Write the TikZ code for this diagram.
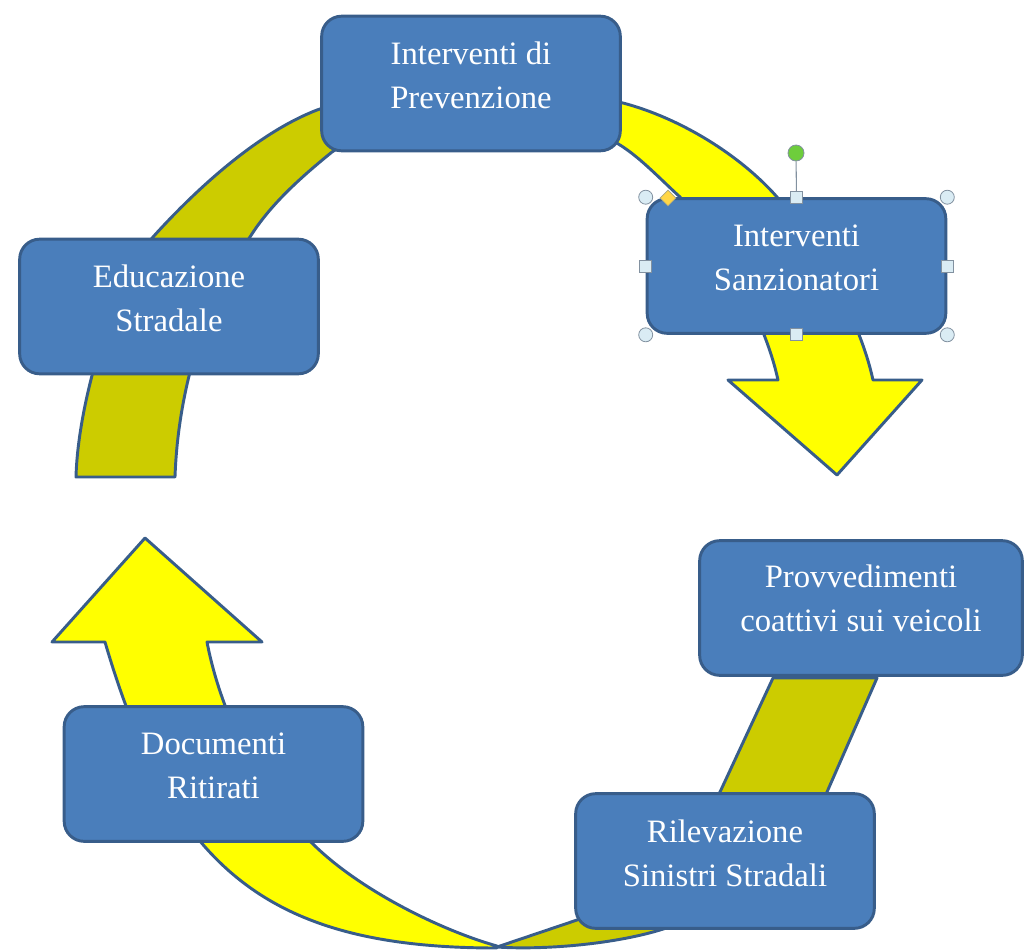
\documentclass[tikz,border=0pt]{standalone}
\usepackage{fontspec}
\setmainfont{Liberation Serif}
\usetikzlibrary{shapes.geometric}
\definecolor{boxc}{RGB}{74,126,187}
\definecolor{bordc}{RGB}{56,93,138}
\definecolor{yellowc}{RGB}{255,255,0}
\definecolor{olivec}{RGB}{204,204,0}
\definecolor{handf}{RGB}{218,236,244}
\definecolor{handd}{RGB}{130,145,160}
\definecolor{greenc}{RGB}{110,205,60}
\definecolor{goldc}{RGB}{255,214,70}
\begin{document}
\begin{tikzpicture}[x=0.75pt,y=-0.75pt,
  box/.style={draw=bordc, line width=2.2pt, fill=boxc, rounded corners=15pt,
    minimum width=224pt, minimum height=101pt, inner sep=0pt},
  widebox/.style={box, minimum width=242pt},
  lbl/.style={text=white, align=center, inner sep=0pt,
    font=\fontsize{24.5}{33}\selectfont},
  band/.style={draw=bordc, line width=2.2pt, line join=round},
  hcirc/.style={circle, draw=handd, fill=handf, line width=0.6pt,
    minimum size=10.5pt, inner sep=0pt},
  hsq/.style={rectangle, draw=handd, fill=handf, line width=0.6pt,
    minimum size=9pt, inner sep=0pt},
  hrot/.style={circle, draw=handd, fill=greenc, line width=0.6pt,
    minimum size=12pt, inner sep=0pt},
  hadj/.style={diamond, draw=handd!70!goldc, fill=goldc, line width=0.5pt,
    minimum size=12pt, inner sep=0pt}]
\useasboundingbox (0,0) rectangle (1026,951);

% top arc: olive tail
\filldraw[band, fill=olivec]
  (76,477) .. controls (78,400) and (115,280) .. (153,237)
  .. controls (200,185) and (260,132) .. (317,110)
  .. controls (370,92) and (420,88) .. (470,87)
  -- (470,132)
  .. controls (410,134) and (352,137) .. (332,152)
  .. controls (300,178) and (270,205) .. (250,237)
  .. controls (205,300) and (178,390) .. (175,477)
  -- cycle;
% top arc: yellow head
\filldraw[band, fill=yellowc]
  (470,87) .. controls (520,86) and (580,93) .. (623,103)
  .. controls (680,118) and (740,155) .. (777,197)
  .. controls (820,250) and (860,320) .. (873,380)
  -- (922,380) -- (837,475) -- (728,380) -- (778,380)
  .. controls (765,320) and (725,250) .. (680,197)
  .. controls (658,177) and (638,155) .. (615,142)
  .. controls (590,130) and (520,131) .. (470,132)
  -- cycle;
% bottom arc: olive tail
\filldraw[band, fill=olivec]
  (877,678) -- (827,792)
  .. controls (800,850) and (740,905) .. (660,930)
  .. controls (610,945) and (540,950) .. (497,947)
  -- (577,920)
  .. controls (640,895) and (695,840) .. (720,792)
  -- (773,678)
  -- cycle;
% bottom arc: yellow head
\filldraw[band, fill=yellowc]
  (497,948) .. controls (270,948) and (172,871) .. (105,642)
  -- (52,642) -- (145,538) -- (262,642) -- (207,642)
  .. controls (222,720) and (265,800) .. (314,845)
  .. controls (360,890) and (440,930) .. (497,946)
  -- cycle;

% boxes
\node[box] (prev) at (471,83.5) {};
\node[box] (edu) at (169,306.5) {};
\node[box] (sanz) at (796.5,266) {};
\node[widebox] (prov) at (861,608) {};
\node[box] (doc) at (213.5,774) {};
\node[box] (ril) at (725,861) {};

\node[lbl] (tprev) at ([yshift=6pt]prev.center) {Interventi di\\Prevenzione};
\node[lbl] (tedu) at ([yshift=6pt]edu.center) {Educazione\\Stradale};
\node[lbl] (tsanz) at ([yshift=6pt]sanz.center) {Interventi\\Sanzionatori};
\node[lbl] (tprov) at ([yshift=7pt]prov.center) {Provvedimenti\\coattivi sui veicoli};
\node[lbl] (tdoc) at ([yshift=6pt]doc.center) {Documenti\\Ritirati};
\node[lbl] (tril) at ([yshift=6pt]ril.center) {Rilevazione\\Sinistri Stradali};

% selection handles on the selected box
\node[hrot] (rot) at (796,153) {};
\draw[handd, line width=0.8pt] (sanz.north) -- (rot);
\node[hadj] (adj) at (668,198) {};
\node[hcirc] (hnw) at (sanz.north west) {};
\node[hcirc] (hne) at (sanz.north east) {};
\node[hcirc] (hsw) at (sanz.south west) {};
\node[hcirc] (hse) at (sanz.south east) {};
\node[hsq] (hn) at (sanz.north) {};
\node[hsq] (hs) at (sanz.south) {};
\node[hsq] (hw) at (sanz.west) {};
\node[hsq] (he) at (sanz.east) {};
\end{tikzpicture}
\end{document}
